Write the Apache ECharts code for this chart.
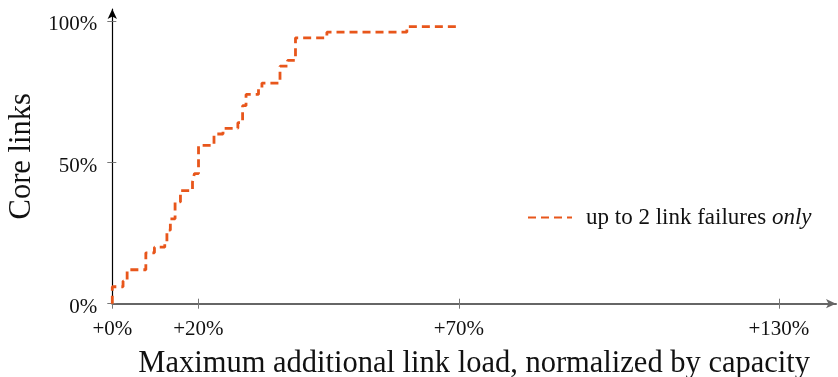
<!DOCTYPE html>
<html>
<head>
<meta charset="utf-8">
<script src="https://cdn.jsdelivr.net/npm/echarts@6/dist/echarts.min.js"></script>
<style>
  html, body { margin: 0; padding: 0; background: #fff; }
  #chart { width: 838px; height: 377px; }
</style>
</head>
<body>
<div id="chart"></div>
<script>
// ---- data (x in axis display units; +0% at 0, +20% at 20) ----
const xTickPos = [0, 20, 80.6, 155.0];
const xTickLabels = ['+0%', '+20%', '+70%', '+130%'];
const yTickVals = [0, 50, 100];
const yTickLabels = ['0%', '50%', '100%'];
// step CDF: at stepX[i] the share of core links rises to stepY[i] (%)
const stepX = [0, 0, 2.5, 3.45, 7.8, 9.8, 12.2, 12.7, 13.5, 14.6, 15.85, 18.65, 19.1, 20.05, 23.65, 25.75, 29.2, 30.3, 31.1, 34.0, 34.8, 39.0, 40.75, 42.6, 49.9, 68.5, 80.85];
const stepY = [0, 6, 8, 12, 18, 20, 22, 26, 30, 36, 40, 43, 46, 56, 60, 62, 64, 70, 74, 76, 78, 84, 86, 94, 96, 98, 98];
const seriesName = 'up to 2 link failures only';
const legendPlain = 'up to 2 link failures';
const legendItalic = 'only';
const xTitle = 'Maximum additional link load, normalized by capacity';
const yTitle = 'Core links';

const FONT = '"Liberation Serif", "DejaVu Serif", serif';
const ORANGE = '#e8561b';

const chart = echarts.init(document.getElementById('chart'), null, { renderer: 'canvas' });

const xMax = 168.3;
const yMax = 104.2;

const option = {
  animation: false,
  backgroundColor: '#ffffff',
  grid: { left: 112.3, right: 2, top: 9, bottom: 73.3, containLabel: false, outerBoundsMode: 'none' },
  legend: {
    show: true,
    left: 527,
    top: 206,
    padding: 0,
    itemWidth: 44,
    itemHeight: 14,
    itemGap: 10,
    data: [seriesName],
    itemStyle: { opacity: 0 },
    formatter: function () { return legendPlain + ' {it|' + legendItalic + '}'; },
    textStyle: {
      fontFamily: FONT, fontSize: 23, color: '#111', padding: [0, 0, 0, 9],
      rich: { it: { fontFamily: FONT, fontSize: 23, fontStyle: 'italic', color: '#111' } }
    }
  },
  xAxis: [
    {
      type: 'value', min: 0, max: xMax,
      name: xTitle, nameLocation: 'middle', nameGap: 45,
      nameTextStyle: { fontFamily: FONT, fontSize: 30.5, color: '#111' },
      splitLine: { show: false },
      axisLine: { show: true, lineStyle: { color: '#666', width: 2 }, symbol: ['none', 'arrow'], symbolSize: [7, 10] },
      axisTick: { show: true, length: 5, customValues: xTickPos, lineStyle: { color: '#777', width: 1 } },
      axisLabel: {
        show: true, margin: 15, customValues: xTickPos,
        fontFamily: FONT, fontSize: 21, color: '#111',
        formatter: function (v) { const i = xTickPos.indexOf(v); return i >= 0 ? xTickLabels[i] : ''; }
      }
    },
    {
      type: 'value', min: 0, max: xMax, position: 'bottom',
      splitLine: { show: false },
      axisLine: { show: false },
      axisTick: { show: true, inside: true, length: 5, customValues: xTickPos, lineStyle: { color: '#777', width: 1 } },
      axisLabel: { show: false }
    }
  ],
  yAxis: [
    {
      type: 'value', min: 0, max: yMax,
      name: yTitle, nameLocation: 'middle', nameGap: 75, nameRotate: 90,
      nameTextStyle: { fontFamily: FONT, fontSize: 30.5, color: '#111' },
      splitLine: { show: false },
      axisLine: { show: true, lineStyle: { color: '#000', width: 1.2 }, symbol: ['none', 'arrow'], symbolSize: [7, 10] },
      axisTick: { show: true, length: 5, customValues: yTickVals, lineStyle: { color: '#777', width: 1 } },
      axisLabel: {
        show: true, margin: 15, customValues: yTickVals,
        fontFamily: FONT, fontSize: 21, color: '#111',
        verticalAlign: 'top', lineHeight: 8,
        formatter: function (v) { const i = yTickVals.indexOf(v); return i >= 0 ? yTickLabels[i] : ''; }
      }
    },
    {
      type: 'value', min: 0, max: yMax, position: 'left',
      splitLine: { show: false },
      axisLine: { show: false },
      axisTick: { show: true, inside: true, length: 4, customValues: yTickVals, lineStyle: { color: '#777', width: 1 } },
      axisLabel: { show: false }
    }
  ],
  series: [
    {
      name: seriesName,
      type: 'line',
      step: 'end',
      xAxisIndex: 0, yAxisIndex: 0,
      showSymbol: false,
      symbol: 'none',
      clip: false,
      data: stepX.map(function (x, i) { return [x, stepY[i]]; }),
      lineStyle: { color: ORANGE, width: 2.8, type: [8, 5] },
      itemStyle: { color: ORANGE }
    }
  ]
};

chart.setOption(option);
</script>
</body>
</html>
